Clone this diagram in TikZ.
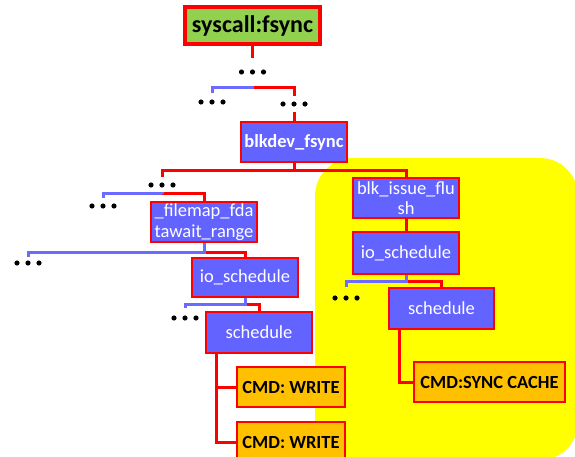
\documentclass[tikz,border=0pt]{standalone}
\usepackage{fontspec}
\setmainfont{Carlito}
\definecolor{boxblue}{HTML}{6363FF}
\definecolor{lineblue}{HTML}{6B6BFF}
\definecolor{boxred}{HTML}{FF0000}
\definecolor{cmdorange}{HTML}{FFC000}
\definecolor{sysgreen}{HTML}{92D050}
\definecolor{hiyellow}{HTML}{FFFF00}
\begin{document}
\begin{tikzpicture}[x=1pt,y=-1pt,
  fbox/.style={draw=boxred, line width=2pt, fill=boxblue, text=white, inner sep=0pt,
    align=center, font=\fontsize{18.5}{20.5}\selectfont,
    minimum width=106pt, minimum height=40pt},
  cmdbox/.style={draw=boxred, line width=2pt, fill=cmdorange, text=black, inner sep=0pt,
    font=\fontsize{18.5}{20.5}\selectfont\bfseries, minimum width=108pt, minimum height=40pt},
  sysbox/.style={draw=boxred, line width=3.5pt, fill=sysgreen, text=black, inner sep=0pt,
    font=\fontsize{24}{26}\selectfont\bfseries, minimum width=135pt, minimum height=37pt},
  dotsn/.style={minimum width=34pt, minimum height=16pt, inner sep=0pt,
    path picture={\foreach \dx in {-11,0,11}{\fill[black] ([xshift=\dx pt]path picture bounding box.center) circle[radius=2.6pt];}}},
  redline/.style={draw=boxred, line width=3pt, line join=miter},
  blueline/.style={draw=lineblue, line width=3pt, line join=miter}
]
\useasboundingbox (0,0) rectangle (575,457);
\begin{scope}
\clip (0,0) rectangle (575,457);
\fill[white] (0,0) rectangle (575,457);
\fill[hiyellow, rounded corners=38pt] (315,158) rectangle (578,460);

% nodes
\node[sysbox] (sys) at (252.5,25.5) {syscall:fsync};
\node[dotsn, minimum height=28pt] (d1) at (252.5,72) {};
\node[dotsn, minimum height=18pt] (d2) at (212,102) {};
\node[dotsn, minimum height=16pt] (d3) at (294,104) {};
\node[fbox, font=\fontsize{18.5}{20.5}\selectfont\bfseries] (blk) at (294,142) {blkdev\_fsync};
\node[dotsn, minimum height=16pt] (d4) at (162,185) {};
\node[dotsn, minimum height=16pt] (d5) at (103,206) {};
\node[fbox] (fil) at (204,222) {\_filemap\_fda\\tawait\_range};
\node[dotsn, minimum height=12pt] (d6) at (28,263) {};
\node[fbox, minimum height=39pt] (io1) at (245,277) {io\_schedule};
\node[dotsn, minimum height=20pt] (d7) at (185,318) {};
\node[fbox, minimum height=41pt] (sch1) at (259,332.5) {schedule};
\node[cmdbox] (w1) at (291,387) {CMD: WRITE};
\node[cmdbox] (w2) at (291,442) {CMD: WRITE};
\node[fbox] (bif) at (406,198) {blk\_issue\_flu\\sh};
\node[fbox, minimum height=42pt] (io2) at (406,253) {io\_schedule};
\node[dotsn, minimum height=22pt] (d8) at (346,298) {};
\node[fbox, minimum width=105pt, minimum height=41pt] (sch2) at (441.5,308.5) {schedule};
\node[cmdbox, minimum width=151pt] (sync) at (489.5,382) {CMD:SYNC CACHE};

% junctions
\coordinate (j1) at (252.5,88);
\coordinate (j2) at (294,171);
\coordinate (j3) at (162,193);
\coordinate (j4) at (204,252);
\coordinate (j5) at (245,304);
\coordinate (j6) at (406,281);

% connectors
\draw[redline] (sys.south) -- (d1.north);
\draw[redline] (j1) -| (d3.north);
\draw[blueline] (d1.south) -- (j1) -| (d2.north);
\draw[redline] (d3.south) -- (blk.north);
\draw[redline] (blk.south) -- (j2) -| (d4.north);
\draw[redline] (j2) -| (bif.north);
\draw[redline] (j3) -| (fil.north);
\draw[blueline] (d4.south) -- (j3) -| (d5.north);
\draw[redline] (j4) -| (io1.north);
\draw[blueline] (fil.south) -- (j4) -| (d6.north);
\draw[redline] (j5) -| (sch1.north);
\draw[blueline] (io1.south) -- (j5) -| (d7.north);
\draw[redline] ([xshift=11pt]sch1.south west) |- (w1.west);
\draw[redline] ([xshift=11pt]sch1.south west) |- (w2.west);
\draw[redline] (bif.south) -- (io2.north);
\draw[redline] (j6) -| (sch2.north);
\draw[blueline] (io2.south) -- (j6) -| (d8.north);
\draw[redline] ([xshift=11pt]sch2.south west) |- (sync.west);
\end{scope}
\end{tikzpicture}
\end{document}
